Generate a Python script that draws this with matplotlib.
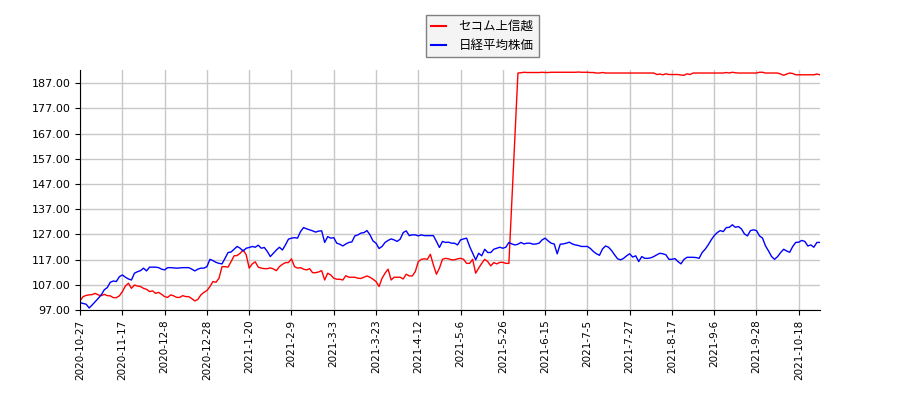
import matplotlib
matplotlib.use('Agg')
import matplotlib.pyplot as plt
import numpy as np

# tick labels, one every 14 trading days
tick_labels = ['2020-10-27', '2020-11-17', '2020-12-8', '2020-12-28', '2021-1-20',
               '2021-2-9', '2021-3-3', '2021-3-23', '2021-4-12', '2021-5-6',
               '2021-5-26', '2021-6-15', '2021-7-5', '2021-7-27', '2021-8-17',
               '2021-9-6', '2021-9-28', '2021-10-18']
tick_step = 14

# セコム上信越 (normalized)
secom = [
    100.7, 102.3, 102.8, 103.0, 103.1, 103.6, 103.0, 102.7, 103.2, 102.7,
    102.6, 101.9, 101.9, 102.6, 104.3, 106.5, 107.6, 105.6, 106.9, 106.5,
    106.3, 105.6, 105.2, 104.3, 104.6, 103.6, 104.0, 103.2, 102.3, 102.0,
    103.0, 102.6, 102.0, 102.0, 102.7, 102.3, 102.3, 101.5, 100.6, 101.2,
    103.0, 104.0, 104.7, 106.3, 108.3, 108.0, 109.6, 114.2, 114.2, 114.0,
    116.2, 118.5, 118.6, 119.5, 120.8, 118.9, 113.6, 115.3, 116.1, 114.0,
    113.6, 113.4, 113.4, 113.7, 113.3, 112.6, 114.2, 115.1, 115.8, 115.8,
    117.3, 114.2, 113.6, 113.8, 113.2, 112.9, 113.4, 111.8, 111.8, 112.1,
    112.6, 108.9, 111.6, 110.9, 109.6, 109.2, 109.2, 108.9, 110.6, 110.0,
    110.0, 110.0, 109.6, 109.5, 110.0, 110.5, 110.0, 109.2, 108.3, 106.3,
    109.6, 111.6, 113.2, 108.9, 110.0, 110.0, 110.0, 109.3, 111.2, 110.5,
    110.5, 112.2, 116.2, 117.1, 117.3, 117.1, 119.1, 114.9, 111.2, 113.6,
    117.1, 117.5, 117.3, 116.9, 116.9, 117.3, 117.5, 117.1, 115.5, 115.5,
    117.1, 111.6, 113.6, 115.5, 117.1, 116.2, 114.5, 115.8, 115.3, 115.9,
    115.9, 115.5, 115.5, 140.5, 165.5, 191.0, 191.1, 191.3, 191.2, 191.2,
    191.2, 191.2, 191.2, 191.3, 191.2, 191.2, 191.3, 191.3, 191.3, 191.3,
    191.3, 191.3, 191.3, 191.3, 191.3, 191.4, 191.3, 191.3, 191.3, 191.2,
    191.2, 191.0, 191.0, 191.2, 191.0, 191.0, 191.0, 191.0, 191.0, 191.0,
    191.0, 191.0, 191.0, 191.0, 191.0, 191.0, 191.0, 191.0, 191.0, 191.0,
    191.0, 190.4, 190.6, 190.3, 190.7, 190.4, 190.4, 190.4, 190.4, 190.2,
    190.1, 190.7, 190.4, 191.0, 191.0, 191.0, 191.0, 191.0, 191.0, 191.0,
    191.0, 191.0, 191.0, 191.0, 191.2, 191.0, 191.3, 191.1, 191.0, 191.0,
    191.0, 191.0, 191.0, 191.0, 191.0, 191.3, 191.3, 191.0, 191.0, 191.0,
    191.0, 191.0, 190.6, 190.1, 190.6, 191.0, 190.8, 190.3, 190.3, 190.3,
    190.3, 190.3, 190.3, 190.3, 190.6, 190.3,
]

# 日経平均株価 (normalized)
nikkei = [
    99.9, 99.6, 99.3, 97.8, 99.0, 100.3, 101.6, 103.0, 105.0, 105.9,
    108.0, 108.5, 108.3, 110.2, 110.9, 110.0, 109.3, 108.9, 111.6, 112.2,
    112.6, 113.6, 112.5, 114.0, 114.0, 114.0, 113.8, 113.2, 112.9, 113.8,
    113.8, 113.7, 113.6, 113.7, 113.8, 113.8, 113.8, 113.2, 112.5, 113.2,
    113.6, 113.6, 114.2, 117.1, 116.6, 115.9, 115.5, 115.3, 117.5, 119.8,
    120.0, 121.1, 122.2, 121.5, 120.4, 121.5, 121.8, 122.2, 121.9, 122.7,
    121.5, 121.8, 120.2, 118.2, 119.5, 120.8, 121.9, 120.8, 122.8, 125.1,
    125.5, 125.7, 125.5, 128.1, 129.7, 129.2, 128.8, 128.4, 127.9, 128.3,
    128.4, 123.8, 126.1, 125.5, 125.7, 123.5, 123.1, 122.4, 123.2, 123.8,
    124.0, 126.4, 126.8, 127.5, 127.7, 128.5, 126.8, 124.4, 123.5, 121.4,
    122.2, 123.8, 124.6, 125.2, 124.8, 124.2, 125.1, 127.7, 128.4, 126.5,
    126.8, 126.8, 126.4, 126.8, 126.5, 126.5, 126.5, 126.5, 124.2, 121.8,
    124.2, 123.8, 123.9, 123.5, 123.5, 122.8, 124.8, 125.2, 125.5, 122.2,
    119.5, 116.9, 119.5, 118.5, 121.1, 119.8, 119.8, 121.1, 121.5, 121.9,
    121.5, 121.9, 123.8, 123.2, 122.8, 123.1, 123.8, 123.2, 123.5, 123.5,
    123.1, 123.2, 123.5, 124.8, 125.5, 124.4, 123.5, 123.2, 119.3, 123.1,
    123.2, 123.5, 123.9, 123.2, 122.8, 122.6, 122.2, 122.2, 122.2, 121.4,
    120.2, 119.3, 118.7, 121.2, 122.4, 121.9, 120.6, 118.9, 117.3, 116.9,
    117.5, 118.5, 119.3, 118.0, 118.5, 116.2, 118.2, 117.5, 117.5, 117.7,
    118.2, 118.9, 119.5, 119.3, 118.9, 117.1, 117.1, 117.4, 116.2, 115.3,
    117.1, 117.9, 117.9, 117.9, 117.8, 117.5, 119.8, 121.1, 122.8, 124.8,
    126.5, 127.7, 128.5, 128.1, 129.7, 129.8, 130.8, 129.8, 130.1, 129.2,
    127.2, 126.4, 128.5, 128.8, 128.5, 126.4, 125.5, 122.4, 120.4, 118.2,
    117.1, 118.2, 119.8, 121.1, 120.4, 119.9, 122.2, 123.8, 123.9, 124.6,
    124.2, 122.4, 122.8, 121.9, 123.8, 123.8,
]

y_ticks = [97, 107, 117, 127, 137, 147, 157, 167, 177, 187]

fig = plt.figure(figsize=(9, 4), dpi=100)
ax = fig.add_axes([0.089, 0.225, 0.822, 0.6])

x = np.arange(len(secom))
ax.plot(x, secom, color='red', linewidth=1, label='セコム上信越')
ax.plot(x, nikkei, color='blue', linewidth=1, label='日経平均株価')

ax.set_xlim(0, len(secom) - 1)
ax.set_ylim(97, 192.2)
ax.set_xticks(np.arange(len(tick_labels)) * tick_step)
ax.set_xticklabels(tick_labels, rotation=90, fontsize=7.5)
ax.set_yticks(y_ticks)
ax.set_yticklabels(['%.2f' % v for v in y_ticks], fontsize=8)
ax.grid(True, color='#c8c8c8', linewidth=1)
ax.set_axisbelow(True)
ax.spines['top'].set_visible(False)
ax.spines['right'].set_visible(False)

leg = fig.legend(loc='upper center', bbox_to_anchor=(0.536, 0.978),
                 prop={'family': ['Noto Sans CJK JP', 'DejaVu Sans'], 'size': 9},
                 fancybox=False, edgecolor='gray', framealpha=1, facecolor='#f4f4f4',
                 handlelength=1.2, handletextpad=1.0)
for line in leg.get_lines():
    line.set_linewidth(1.5)

fig.savefig('out.png')
